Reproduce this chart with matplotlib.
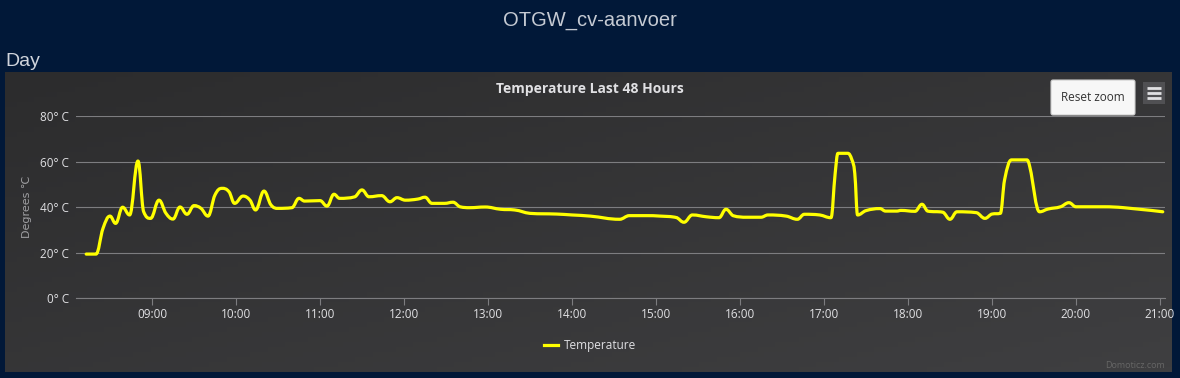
import matplotlib
matplotlib.use("Agg")
import matplotlib.pyplot as plt
import matplotlib.dates as mdates
import numpy as np
import pandas as pd
from matplotlib.colors import LinearSegmentedColormap
from matplotlib.lines import Line2D
from matplotlib.patches import FancyBboxPatch, PathPatch, Rectangle
from matplotlib.path import Path
from matplotlib.ticker import FuncFormatter

# Readings (time of day, temperature in degrees C)
times = [
    "08:13", "08:20", "08:25", "08:30", "08:34", "08:39", "08:44", "08:50", "08:54", "08:59",
    "09:05", "09:10", "09:15", "09:20", "09:25", "09:30", "09:35", "09:40", "09:45", "09:50",
    "09:55", "09:59", "10:05", "10:10", "10:14", "10:20", "10:25", "10:30", "10:40", "10:45",
    "10:49", "11:00", "11:05", "11:10", "11:14", "11:25", "11:30", "11:35", "11:44", "11:50",
    "11:55", "12:01", "12:10", "12:15", "12:20", "12:29", "12:35", "12:40", "12:47", "12:58",
    "13:09", "13:19", "13:30", "13:49", "14:00", "14:13", "14:34", "14:41", "14:53", "15:03",
    "15:15", "15:20", "15:26", "15:36", "15:45", "15:50", "15:55", "16:05", "16:15", "16:20",
    "16:33", "16:41", "16:46", "16:57", "17:05", "17:08", "17:10", "17:17", "17:20", "17:22",
    "17:24", "17:30", "17:40", "17:44", "17:52", "17:55", "18:05", "18:10", "18:14", "18:25",
    "18:30", "18:35", "18:49", "18:55", "19:00", "19:06", "19:09", "19:14", "19:25", "19:27",
    "19:34", "19:40", "19:49", "19:55", "20:00", "20:20", "20:34", "21:02",
]
temps = [
    19.3, 19.3, 30.6, 36.0, 32.8, 39.9, 36.5, 60.2, 38.0, 35.0,
    43.0, 37.2, 34.7, 40.0, 36.8, 40.6, 39.4, 36.0, 45.3, 48.2,
    46.7, 41.6, 44.8, 43.0, 38.7, 47.0, 40.9, 39.4, 39.7, 43.8,
    42.6, 42.8, 40.4, 45.6, 43.8, 44.5, 47.5, 44.5, 45.0, 42.3,
    44.1, 43.0, 43.5, 44.3, 41.6, 41.6, 42.1, 40.1, 39.7, 40.0,
    39.0, 38.7, 37.2, 36.9, 36.5, 36.0, 34.6, 36.2, 36.2, 36.0,
    35.3, 33.3, 36.5, 35.7, 35.3, 39.0, 36.2, 35.5, 35.5, 36.5,
    36.0, 34.6, 36.8, 36.5, 35.3, 54.8, 63.6, 63.6, 60.7, 54.8,
    36.5, 38.4, 39.3, 38.2, 38.2, 38.5, 38.1, 41.2, 38.2, 37.7,
    34.6, 37.9, 37.5, 35.0, 36.9, 37.2, 51.9, 60.7, 60.7, 57.7,
    37.9, 39.1, 40.1, 41.9, 40.1, 40.1, 39.7, 37.9,
]
y_ticks = [0, 20, 40, 60, 80]
x_range = ["08:05:43", "21:03:36"]

day = "2024-01-01 "
dates = pd.to_datetime([day + t for t in times])
x_lim = pd.to_datetime([day + t for t in x_range])


def spline_path(xs, ys, smoothing=1.5):
    """Bezier path through the points, same control-point rule as a Highcharts spline."""
    denom = smoothing + 1
    n = len(xs)
    left = [(xs[0], ys[0])] * n
    right = [(xs[0], ys[0])] * n
    for i in range(n):
        px, py = xs[i], ys[i]
        if i == 0 or i == n - 1:
            left[i] = right[i] = (px, py)
            continue
        lx, ly = xs[i - 1], ys[i - 1]
        nx, ny = xs[i + 1], ys[i + 1]
        lcx = (smoothing * px + lx) / denom
        lcy = (smoothing * py + ly) / denom
        rcx = (smoothing * px + nx) / denom
        rcy = (smoothing * py + ny) / denom
        if rcx != lcx:
            corr = (rcy - lcy) * (rcx - px) / (rcx - lcx) + py - rcy
            lcy += corr
            rcy += corr
            if lcy > ly and lcy > py:
                lcy = max(ly, py)
                rcy = 2 * py - lcy
            elif lcy < ly and lcy < py:
                lcy = min(ly, py)
                rcy = 2 * py - lcy
            if rcy > ny and rcy > py:
                rcy = max(ny, py)
                lcy = 2 * py - rcy
            elif rcy < ny and rcy < py:
                rcy = min(ny, py)
                lcy = 2 * py - rcy
        left[i] = (lcx, lcy)
        right[i] = (rcx, rcy)
    verts = [(xs[0], ys[0])]
    codes = [Path.MOVETO]
    for i in range(1, n):
        verts += [right[i - 1], left[i], (xs[i], ys[i])]
        codes += [Path.CURVE4] * 3
    return Path(verts, codes)


plt.rcParams["font.family"] = ["Open Sans", "DejaVu Sans"]

W, H = 1180, 378
fig = plt.figure(figsize=(W / 100, H / 100), dpi=100, facecolor="#011838")

# Full-figure axes in pixel coordinates for the page/panel decoration
bg = fig.add_axes([0, 0, 1, 1])
bg.set_xlim(0, W)
bg.set_ylim(H, 0)
bg.axis("off")
bg.patch.set_alpha(0)

# Chart panel with diagonal gradient
cmap = LinearSegmentedColormap.from_list("panel", ["#2c2c2d", "#3f3f41"])
gx, gy = np.meshgrid(np.linspace(0, 1, 200), np.linspace(0, 1, 60))
bg.imshow((gx + gy) / 2, cmap=cmap, extent=(5, 1172, 372, 72), aspect="auto", zorder=0)

fig.text(590 / W, 1 - 20 / H, "OTGW_cv-aanvoer", ha="center", va="center",
         fontsize=14.5, color="#c5cad3", family=["Liberation Sans", "DejaVu Sans"])
fig.text(5 / W, 1 - 62 / H, "Day", ha="left", va="center",
         fontsize=14, color="#d0d4dc", family=["Liberation Sans", "DejaVu Sans"])
fig.text(590 / W, 1 - 89 / H, "Temperature Last 48 Hours", ha="center", va="center",
         fontsize=10, fontweight="bold", color="#e0e0e3")
fig.text(27 / W, 1 - 207 / H, "Degrees \u2103", rotation=90, ha="center", va="center",
         fontsize=8, color="#a0a0a3", family=["DejaVu Sans"])
fig.text(1165 / W, 1 - 365 / H, "Domoticz.com", ha="right", va="center",
         fontsize=6.5, color="#666666")

# Reset zoom button and menu icon
bg.add_patch(FancyBboxPatch((1051, 80), 84, 35, boxstyle="round,pad=0,rounding_size=2",
                            fc="#f7f7f7", ec="#cccccc", lw=0.8, zorder=2))
bg.text(1093, 97.5, "Reset zoom", ha="center", va="center", fontsize=8.5, color="#333333", zorder=3)
bg.add_patch(Rectangle((1143, 82), 22, 22, fc="#505053", ec="none", zorder=2))
for yy in (88, 93, 98):
    bg.plot([1147, 1161], [yy, yy], color="#e0e0e3", lw=2, solid_capstyle="butt", zorder=3)

# Plot area
ax = fig.add_axes([76 / W, (H - 298) / H, 1089 / W, 182 / H])
ax.patch.set_alpha(0)
xnum = mdates.date2num(dates)
ax.add_patch(PathPatch(spline_path(list(xnum), list(temps)), fc="none", ec="#ffff00",
                       lw=2.3, joinstyle="round", capstyle="round", zorder=3))
line = Line2D([], [], color="#ffff00", lw=2.3, label="Temperature")

ax.set_xlim(x_lim[0], x_lim[1])
ax.set_ylim(0, 80)
ax.set_yticks(y_ticks)
ax.yaxis.set_major_formatter(FuncFormatter(lambda v, p: f"{v:g}\u00b0 C"))
ax.xaxis.set_major_locator(mdates.HourLocator())
ax.xaxis.set_major_formatter(mdates.DateFormatter("%H:%M"))
ax.grid(axis="y", color="#7d7d80", lw=0.8)
ax.set_axisbelow(True)
for side in ("top", "right", "left"):
    ax.spines[side].set_visible(False)
ax.spines["bottom"].set_color("#7d7d80")
ax.spines["bottom"].set_linewidth(0.8)
ax.tick_params(axis="y", length=0, pad=5, labelcolor="#e0e0e3", labelsize=8.5)
ax.tick_params(axis="x", length=5, width=0.8, color="#7d7d80", labelcolor="#e0e0e3",
               labelsize=8.5, pad=2)

fig.legend(handles=[line], loc="center", bbox_to_anchor=(590 / W, 1 - 346 / H),
           frameon=False, labelcolor="#e0e0e3", fontsize=8.5, handlelength=1.2,
           handletextpad=0.5)

plt.savefig("out.png", dpi=100, facecolor=fig.get_facecolor())
plt.close(fig)
